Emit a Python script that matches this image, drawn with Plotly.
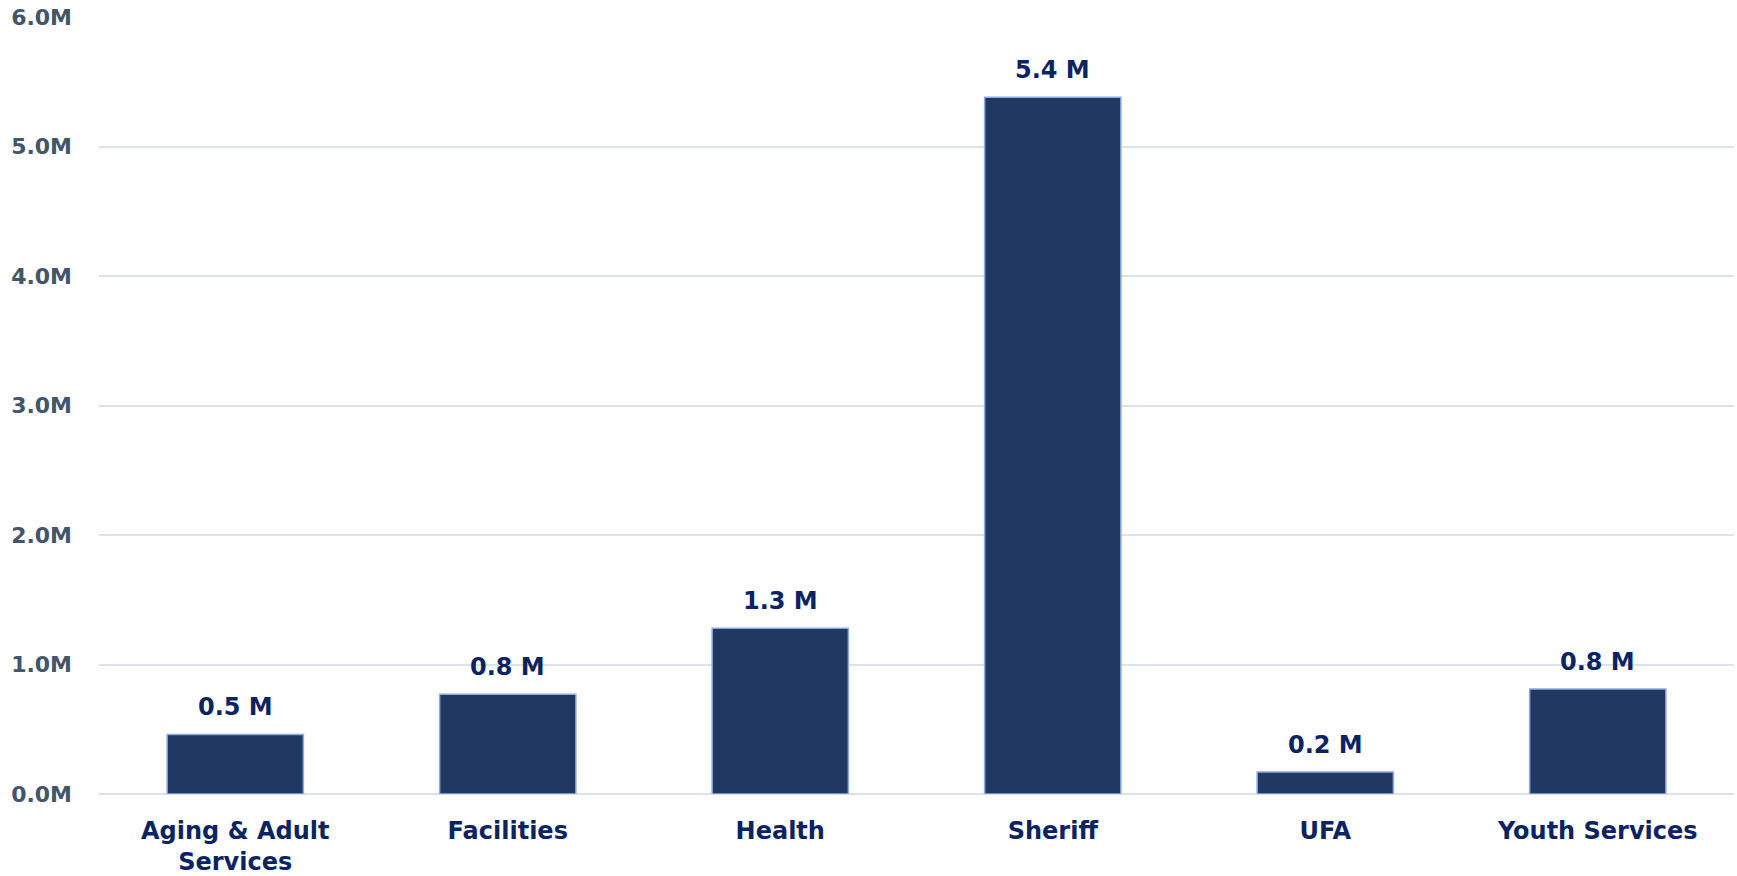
import plotly.graph_objects as go

categories = ["Aging & Adult<br>Services", "Facilities", "Health", "Sheriff", "UFA", "Youth Services"]
values = [0.46, 0.77, 1.28, 5.38, 0.17, 0.81]
labels = ["0.5 M", "0.8 M", "1.3 M", "5.4 M", "0.2 M", "0.8 M"]
tick_vals = [0, 1, 2, 3, 4, 5, 6]
tick_text = ["0.0M", "1.0M", "2.0M", "3.0M", "4.0M", "5.0M", "6.0M"]

FONT = "DejaVu Sans, sans-serif"
NAVY = "#0b2461"

fig = go.Figure()
fig.add_trace(go.Bar(
    x=categories, y=values,
    marker=dict(color="#213862", line=dict(color="#8faadc", width=1.5)),
    hoverinfo="skip",
))
for c, v, t in zip(categories, values, labels):
    fig.add_annotation(x=c, y=v, text=f"<b>{t}</b>", showarrow=False,
                       yanchor="bottom", yshift=11,
                       font=dict(family=FONT, size=24, color=NAVY))

fig.update_layout(
    width=1737, height=876,
    margin=dict(l=99, r=3, t=17, b=82),
    plot_bgcolor="white", paper_bgcolor="white",
    bargap=0.5, showlegend=False,
    xaxis=dict(
        tickfont=dict(family=FONT, size=24, color=NAVY, weight="bold"),
        showgrid=False, showline=False, ticks="", ticklabelstandoff=20,
        automargin=False,
    ),
    yaxis=dict(
        range=[0, 6], tickvals=tick_vals, ticktext=tick_text,
        tickfont=dict(family=FONT, size=22, color="#44546a", weight="bold"),
        showgrid=True, gridcolor="#dde2ea", gridwidth=2,
        zeroline=True, zerolinecolor="#dde2ea", zerolinewidth=2,
        showline=False, ticks="", ticklabelstandoff=26,
        automargin=False,
    ),
)
fig.write_html("out.html")
